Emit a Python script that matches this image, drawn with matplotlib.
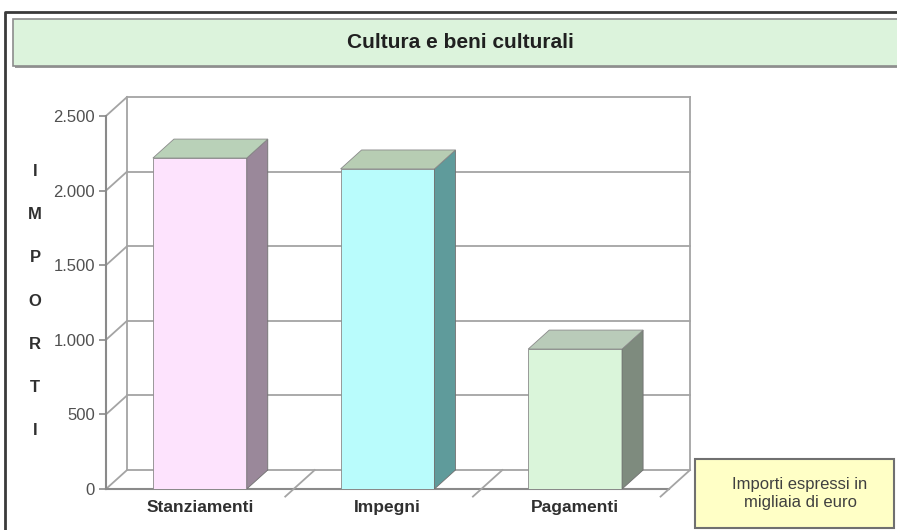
import matplotlib.pyplot as plt
from matplotlib.patches import Rectangle, Polygon
from matplotlib.lines import Line2D
from matplotlib.ticker import FuncFormatter

# data
categories = ["Stanziamenti", "Impegni", "Pagamenti"]
values = [2218, 2145, 938]
y_ticks = [0, 500, 1000, 1500, 2000, 2500]

front_colors = ["#fde3fd", "#b9fcfc", "#daf5da"]
side_colors = ["#9a889a", "#5f9b9b", "#7e8b7e"]
top_colors = ["#b9d1b8", "#b7cdb3", "#b9cbb9"]

W, H = 897, 530
plt.rcParams["font.family"] = ["Liberation Sans", "DejaVu Sans"]

fig = plt.figure(figsize=(W / 100, H / 100), dpi=100)
fig.patch.set_facecolor("white")


def fx(x):
    return x / W


def fy(y):
    return 1 - y / H


# outer frame (top and left dark edges)
fig.add_artist(Line2D([fx(5), fx(5), fx(W)], [fy(H), fy(12), fy(12)],
                      color="#3a3a3a", lw=2))

# title box
fig.add_artist(Rectangle((fx(15), fy(68)), fx(W + 10) - fx(15), fy(21) - fy(68),
                         transform=fig.transFigure, facecolor="#9a9a9a",
                         edgecolor="none"))
fig.add_artist(Rectangle((fx(13), fy(66)), fx(W + 10) - fx(13), fy(19) - fy(66),
                         transform=fig.transFigure, facecolor="#dcf3dc",
                         edgecolor="#8c8c8c", lw=1.2))
fig.text(fx(460), fy(43), "Cultura e beni culturali", ha="center", va="center",
         fontsize=15, fontweight="bold", color="#202020")

# vertical axis label
fig.text(fx(35), fy(301), "\n".join("IMPORTI"), ha="center", va="center",
         fontsize=12, fontweight="bold", color="#303030", linespacing=3.35)

# note box
fig.add_artist(Rectangle((fx(695), fy(528)), fx(894) - fx(695), fy(459) - fy(528),
                         transform=fig.transFigure, facecolor="#ffffc6",
                         edgecolor="#707070", lw=1.5))
fig.text(fx(800), fy(493), "Importi espressi in\nmigliaia di euro", ha="center",
         va="center", fontsize=12, color="#404040", linespacing=1.25)

# plot area (front plane + depth)
ax = fig.add_axes([fx(106), fy(489), fx(690) - fx(106), fy(97) - fy(489)])
ax.patch.set_alpha(0)
for s in ax.spines.values():
    s.set_visible(False)

dxd = 0.112   # depth in category units
dyd = 127     # depth in value units
x0, x1 = -0.5, len(categories) - 0.5
ymax = y_ticks[-1]
ax.set_xlim(x0, x1 + dxd)
ax.set_ylim(0, ymax + dyd)

grid = dict(color="#a4a4a4", lw=1.3, zorder=1, clip_on=False)

# back wall
for v in y_ticks:
    ax.plot([x0 + dxd, x1 + dxd], [v + dyd, v + dyd], **grid)
    ax.plot([x0, x0 + dxd], [v, v + dyd], **grid)
ax.plot([x1 + dxd, x1 + dxd], [dyd, ymax + dyd], **grid)
ax.plot([x0 + dxd, x0 + dxd], [dyd, ymax + dyd], **grid)

# floor
ax.plot([x0, x1], [0, 0], color="#8a8a8a", lw=1.5, zorder=1, clip_on=False)
for b in [x0 + 1, x0 + 2, x1]:
    ax.plot([b - 0.4 * dxd, b + dxd], [-0.4 * dyd, dyd], **grid)

# front value axis
ax.plot([x0, x0], [0, ymax], color="#8a8a8a", lw=1.5, zorder=2, clip_on=False)

# 3d bars
bw = 0.5
for i, v in enumerate(values):
    l, r = i - bw / 2, i + bw / 2
    ax.add_patch(Rectangle((l, 0), bw, v, facecolor=front_colors[i],
                           edgecolor="#8a8a8a", lw=0.6, zorder=3))
    ax.add_patch(Polygon([(r, 0), (r + dxd, dyd), (r + dxd, v + dyd), (r, v)],
                         closed=True, facecolor=side_colors[i],
                         edgecolor="#707070", lw=0.6, zorder=3))
    ax.add_patch(Polygon([(l, v), (l + dxd, v + dyd), (r + dxd, v + dyd), (r, v)],
                         closed=True, facecolor=top_colors[i],
                         edgecolor="#8a8a8a", lw=0.6, zorder=3))

ax.set_yticks(y_ticks)
ax.yaxis.set_major_formatter(FuncFormatter(lambda v, p: f"{int(v):,}".replace(",", ".")))
ax.tick_params(axis="y", length=5, width=1.2, color="#8a8a8a", pad=3,
               labelsize=12, labelcolor="#505050")
ax.set_xticks(range(len(categories)))
ax.set_xticklabels(categories, fontsize=12.5, fontweight="bold", color="#303030")
ax.tick_params(axis="x", length=0, pad=8)

plt.savefig("out.png", dpi=100)
